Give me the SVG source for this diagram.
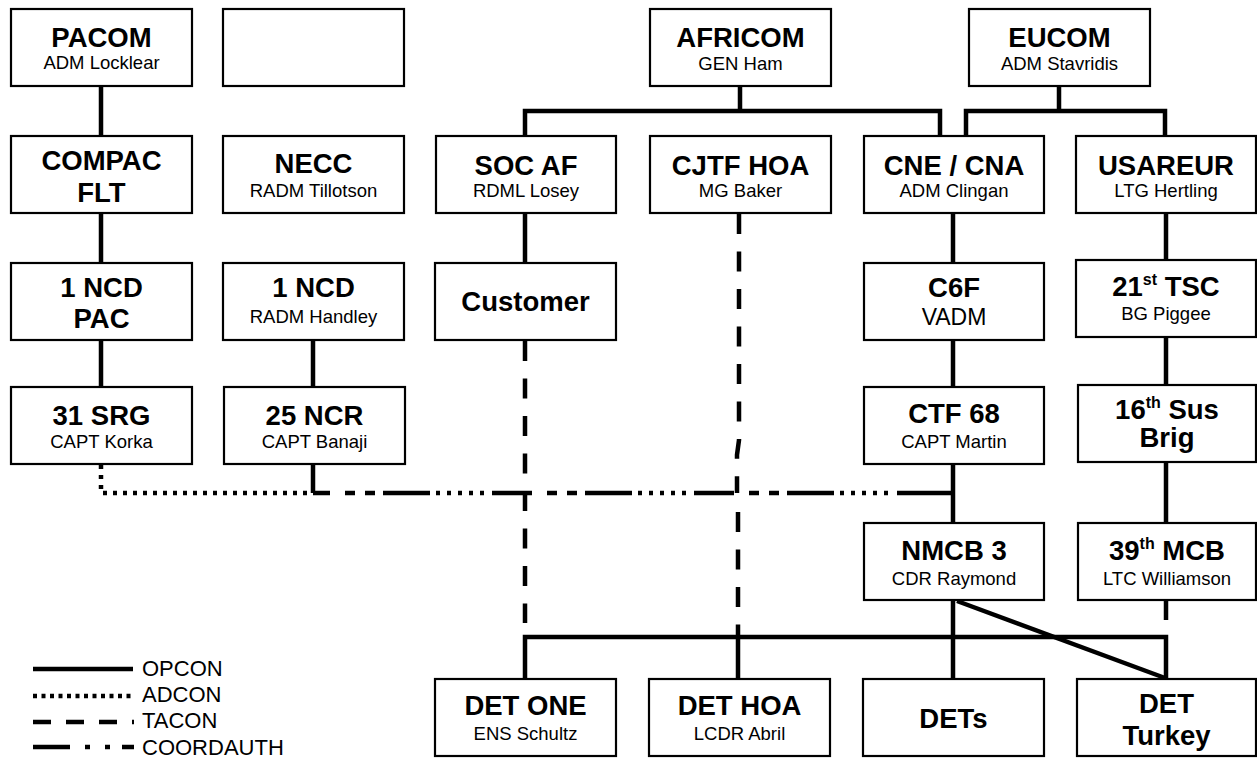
<svg xmlns="http://www.w3.org/2000/svg" width="1257" height="759" viewBox="0 0 1257 759">
<style>
.box{fill:#fff;stroke:#000;stroke-width:2.2}
text{font-family:"Liberation Sans",Arial,sans-serif;fill:#000;text-anchor:middle}
.t{font-weight:bold;font-size:27.5px}
.s{font-size:18.5px}
.sup{font-size:16px;font-weight:bold}
.lg{font-size:22px;text-anchor:start}
.c{fill:none;stroke:#000;stroke-width:4.5}
.ad{stroke-dasharray:4 6}
.ta{stroke-dasharray:20 17.5}
.co{stroke-dasharray:47 6 4 7 4 7 4 7 4 7 4 8 40 15 10 10 10 8}
</style>
<rect width="1257" height="759" fill="#fff"/>
<g id="connectors">
<path class="c" d="M101 87V135M101 213V262M101 340V386M313 340V386M313 465V493"/>
<path class="c" d="M740 87V111M525 135V111H940V135"/>
<path class="c" d="M1059 87V111M966 135V111H1165V135"/>
<path class="c" d="M525 213V262M953 213V262M953 340V386M953 465V522M953 601V678"/>
<path class="c" d="M1166 213V259M1166 337V384M1166 463V522M1166 601V620"/>
<path class="c" d="M525 678V637H1166V678M738 637V678"/>
<path class="c" d="M957 601L1165 678"/>
<path class="c ad" d="M101 465V493H313"/>
<path class="c ta" d="M525 341V623"/>
<path class="c ta" d="M739 214V440L737 455V493"/>
<path class="c ta" d="M738 512V637"/>
<path class="c co" stroke-dashoffset="132" d="M313 493H893"/>
<path class="c" d="M897 493H953"/>
</g>
<g id="pacom"><rect class="box" x="11" y="9" width="181" height="77"/><text class="t" x="101.5" y="47">PACOM</text><text class="s" x="101.5" y="69">ADM Locklear</text></g>
<g id="blank"><rect class="box" x="223" y="9" width="181" height="77"/></g>
<g id="africom"><rect class="box" x="650" y="9" width="181" height="77"/><text class="t" x="740.5" y="47">AFRICOM</text><text class="s" x="740.5" y="70">GEN Ham</text></g>
<g id="eucom"><rect class="box" x="969" y="9" width="181" height="77"/><text class="t" x="1059.5" y="47">EUCOM</text><text class="s" x="1059.5" y="70">ADM Stavridis</text></g>
<g id="compac"><rect class="box" x="11" y="136" width="181" height="77"/><text class="t" x="101.5" y="170">COMPAC</text><text class="t" x="101.5" y="202">FLT</text></g>
<g id="necc"><rect class="box" x="223" y="136" width="181" height="77"/><text class="t" x="313.5" y="173">NECC</text><text class="s" x="313.5" y="197">RADM Tillotson</text></g>
<g id="socaf"><rect class="box" x="436" y="136" width="180" height="77"/><text class="t" x="526" y="175">SOC AF</text><text class="s" x="526" y="197">RDML Losey</text></g>
<g id="cjtf"><rect class="box" x="650" y="136" width="181" height="77"/><text class="t" x="740.5" y="175">CJTF HOA</text><text class="s" x="740.5" y="197">MG Baker</text></g>
<g id="cne"><rect class="box" x="864" y="136" width="180" height="77"/><text class="t" x="954" y="175">CNE / CNA</text><text class="s" x="954" y="197">ADM Clingan</text></g>
<g id="usareur"><rect class="box" x="1076" y="136" width="180" height="77"/><text class="t" x="1166" y="175">USAREUR</text><text class="s" x="1166" y="197">LTG Hertling</text></g>
<g id="ncdpac"><rect class="box" x="11" y="263" width="181" height="77"/><text class="t" x="101.5" y="297">1 NCD</text><text class="t" x="101.5" y="328">PAC</text></g>
<g id="ncd"><rect class="box" x="223" y="263" width="181" height="77"/><text class="t" x="313.5" y="297">1 NCD</text><text class="s" x="313.5" y="323">RADM Handley</text></g>
<g id="customer"><rect class="box" x="435" y="263" width="181" height="77"/><text class="t" x="525.5" y="311">Customer</text></g>
<g id="c6f"><rect class="box" x="864" y="263" width="180" height="77"/><text class="t" x="954" y="297">C6F</text><text x="954" y="325" font-size="23">VADM</text></g>
<g id="tsc"><rect class="box" x="1076" y="260" width="180" height="77"/><text class="t" x="1166" y="296">21<tspan class="sup" dy="-11">st</tspan><tspan dy="11"> TSC</tspan></text><text class="s" x="1166" y="320">BG Piggee</text></g>
<g id="srg"><rect class="box" x="11" y="387" width="181" height="77"/><text class="t" x="101.5" y="425">31 SRG</text><text class="s" x="101.5" y="448">CAPT Korka</text></g>
<g id="ncr"><rect class="box" x="224" y="387" width="181" height="77"/><text class="t" x="314.5" y="425">25 NCR</text><text class="s" x="314.5" y="448">CAPT Banaji</text></g>
<g id="ctf68"><rect class="box" x="864" y="387" width="180" height="77"/><text class="t" x="954" y="423">CTF 68</text><text class="s" x="954" y="448">CAPT Martin</text></g>
<g id="sus"><rect class="box" x="1078" y="385" width="178" height="77"/><text class="t" x="1167" y="419" font-size="26.5">16<tspan class="sup" dy="-11">th</tspan><tspan dy="11"> Sus</tspan></text><text class="t" x="1167" y="447" font-size="26.5">Brig</text></g>
<g id="nmcb"><rect class="box" x="864" y="523" width="180" height="77"/><text class="t" x="954" y="560">NMCB 3</text><text class="s" x="954" y="585">CDR Raymond</text></g>
<g id="mcb"><rect class="box" x="1078" y="523" width="178" height="77"/><text class="t" x="1167" y="560">39<tspan class="sup" dy="-11">th</tspan><tspan dy="11"> MCB</tspan></text><text class="s" x="1167" y="585">LTC Williamson</text></g>
<g id="detone"><rect class="box" x="435" y="679" width="181" height="77"/><text class="t" x="525.5" y="715">DET ONE</text><text class="s" x="525.5" y="740">ENS Schultz</text></g>
<g id="dethoa"><rect class="box" x="649" y="679" width="181" height="77"/><text class="t" x="739.5" y="715">DET HOA</text><text class="s" x="739.5" y="740">LCDR Abril</text></g>
<g id="dets"><rect class="box" x="863" y="679" width="181" height="77"/><text class="t" x="953.5" y="728">DETs</text></g>
<g id="detturkey"><rect class="box" x="1077" y="679" width="179" height="77"/><text class="t" x="1166.5" y="713">DET</text><text class="t" x="1166.5" y="745">Turkey</text></g>
<g id="legend">
<path class="c" d="M33 669H133"/>
<path class="c" stroke-dasharray="4 4.5" d="M33 696H131"/>
<path class="c" stroke-dasharray="18 15" d="M33 722H134"/>
<path class="c" stroke-dasharray="37 15 5 15 5 12" d="M33 747H134"/>
<text class="lg" x="142" y="676">OPCON</text>
<text class="lg" x="142" y="702">ADCON</text>
<text class="lg" x="142" y="728">TACON</text>
<text class="lg" x="142" y="755">COORDAUTH</text>
</g>
</svg>
